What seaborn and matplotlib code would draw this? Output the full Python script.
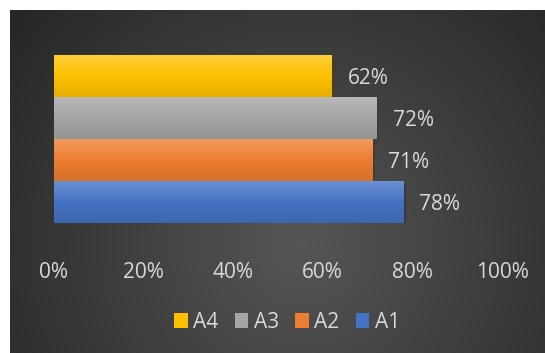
import numpy as np
import pandas as pd
import seaborn as sns
import matplotlib
matplotlib.use("Agg")
import matplotlib.pyplot as plt
import matplotlib.patheffects as pe
from matplotlib.colors import to_rgb

# ---- data ----
series = ["A4", "A3", "A2", "A1"]
values = [0.62, 0.72, 0.71, 0.78]
colors = ["#FFC000", "#A5A5A5", "#ED7D31", "#4472C4"]
xticks = [0, 0.2, 0.4, 0.6, 0.8, 1.0]
xtick_labels = ["0%", "20%", "40%", "60%", "80%", "100%"]

df = pd.DataFrame({"series": series, "value": values})

sns.set_theme(style="white")
plt.rcParams["font.family"] = ["Open Sans", "DejaVu Sans"]
TXT = "#d9d9d9"
FS = 15

W, H = 545, 353
fig = plt.figure(figsize=(W / 100, H / 100), dpi=100, facecolor="white")

# background radial gradient
bg = fig.add_axes([10 / W, 0, (W - 10) / W, (H - 10) / H], zorder=-5)
yy, xx = np.mgrid[10:H, 10:W]
d = np.sqrt((xx - 300.0) ** 2 + (yy - 245.0) ** 2) / 370.0
d = np.clip(d, 0, 1)
c = (86 - 48 * d) / 255.0
img = np.dstack([c, c, c])
bg.imshow(img, aspect="auto", extent=[0, 1, 0, 1], interpolation="bilinear")
bg.set_axis_off()

# main axes
x0, x1 = 54, 502
ytop, ybot = 55, 222.7
ax = fig.add_axes([x0 / W, (H - ybot) / H, (x1 - x0) / W, (ybot - ytop) / H])
ax.set_facecolor("none")

sns.barplot(data=df, x="value", y="series", hue="series", palette=colors,
            width=1.0, ax=ax, legend=True, saturation=1, linewidth=0,
            edgecolor="none")

ax.set_xlim(0, 1.0)
ax.set_ylim(3.5, -0.5)


def mix(col, other, t):
    a = np.array(to_rgb(col))
    b = np.array(to_rgb(other))
    return a * (1 - t) + b * t


for cont, col in zip(ax.containers, colors):
    for p in cont.patches:
        p.set_linewidth(0)
        p.set_path_effects([pe.SimplePatchShadow(offset=(2, -3), alpha=0.35), pe.Normal()])
        bx0, by0 = p.get_x(), p.get_y()
        bw, bh = p.get_width(), p.get_height()
        top = mix(col, "white", 0.22)
        mid = mix(col, "white", 0.0)
        bot = mix(col, "black", 0.10)
        n = 64
        t = np.linspace(0, 1, n)[:, None]
        grad = np.where(t < 0.5, top * (1 - t * 2) + mid * (t * 2),
                        mid * (1 - (t - 0.5) * 2) + bot * ((t - 0.5) * 2))
        grad = grad[:, None, :].repeat(2, axis=1)
        im = ax.imshow(grad, aspect="auto", extent=[bx0, bx0 + bw, by0 + bh, by0],
                       origin="upper", interpolation="bilinear", zorder=3)
        im.set_clip_path(p)
    txts = ax.bar_label(cont, labels=[f"{v*100:.0f}%" for v in cont.datavalues],
                        padding=11.5, color=TXT, fontsize=FS, zorder=4)
    for tx in txts:
        tx.set_va("center_baseline")

ax.set_xlim(0, 1.0)
ax.set_ylim(3.5, -0.5)
ax.set_xticks(xticks)
ax.set_xticklabels(xtick_labels, color=TXT, fontsize=FS)
ax.tick_params(axis="x", length=0, pad=28.5)
ax.set_yticks([])
ax.set_xlabel("")
ax.set_ylabel("")
for s in ax.spines.values():
    s.set_visible(False)

handles, labels = ax.get_legend_handles_labels()
ax.get_legend().remove()
leg = fig.legend(handles, labels, loc="center", bbox_to_anchor=(287 / W, 1 - 322 / H),
                 ncol=4, frameon=False, fontsize=FS, labelcolor=TXT,
                 handlelength=0.65, handleheight=0.7, handletextpad=0.25,
                 columnspacing=0.8)
for h in leg.legend_handles:
    h.set_linewidth(0)

fig.savefig("out.png", dpi=100, facecolor="white")
